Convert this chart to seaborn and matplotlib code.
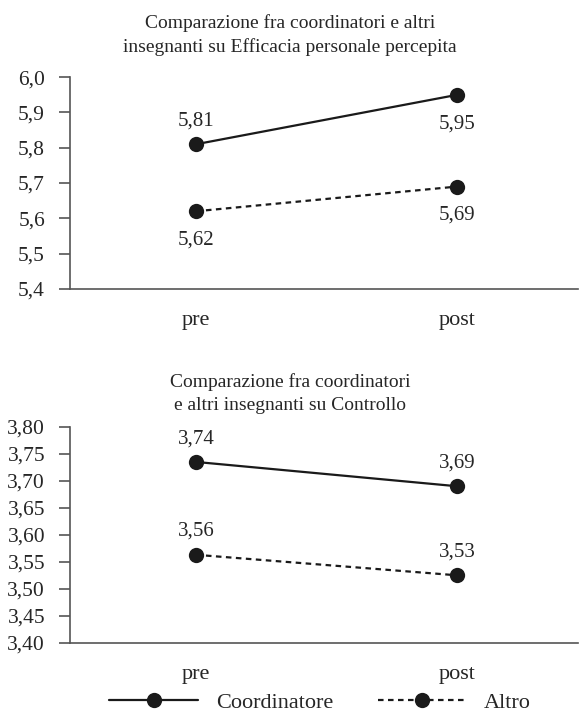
import matplotlib
matplotlib.use("Agg")
import matplotlib.pyplot as plt
import matplotlib.ticker as mticker
import seaborn as sns
import pandas as pd

# Data
tempi = ["pre", "post"]
gruppi = ["Coordinatore", "Altro"]
efficacia_coord = [5.81, 5.95]
efficacia_altro = [5.62, 5.69]
controllo_coord = [3.735, 3.69]
controllo_altro = [3.563, 3.525]
controllo_lab_coord = ["3,74", "3,69"]
controllo_lab_altro = ["3,56", "3,53"]

titolo_1 = "Comparazione fra coordinatori e altri\ninsegnanti su Efficacia personale percepita"
titolo_2 = "Comparazione fra coordinatori\ne altri insegnanti su Controllo"

SERIF = ["Liberation Serif", "DejaVu Serif"]


def to_long(coord, altro):
    return pd.DataFrame({
        "tempo": tempi * 2,
        "gruppo": [gruppi[0]] * 2 + [gruppi[1]] * 2,
        "valore": list(coord) + list(altro),
    })


sns.set_theme(style="ticks")
plt.rcParams["font.family"] = SERIF
plt.rcParams["font.size"] = 14

fig = plt.figure(figsize=(5.79, 7.15), dpi=100)
ax1 = fig.add_axes([0.121, 0.596, 0.877, 0.296])
ax2 = fig.add_axes([0.121, 0.101, 0.877, 0.302])

dashes = {"Coordinatore": "", "Altro": (2.5, 2)}
line_kw = dict(x="tempo", y="valore", hue="gruppo", style="gruppo",
               palette=["#1a1a1a", "#1a1a1a"], dashes=dashes,
               markers={"Coordinatore": "o", "Altro": "o"},
               markersize=11, linewidth=1.6, markeredgewidth=0)

sns.lineplot(data=to_long(efficacia_coord, efficacia_altro), ax=ax1,
             legend=False, **line_kw)
sns.lineplot(data=to_long(controllo_coord, controllo_altro), ax=ax2,
             legend=True, **line_kw)

comma = mticker.FuncFormatter(lambda v, p: f"{v:.1f}".replace(".", ","))
comma2 = mticker.FuncFormatter(lambda v, p: f"{v:.2f}".replace(".", ","))

for ax in (ax1, ax2):
    ax.set_xlim(-0.4825, 1.463)
    ax.set_xlabel("")
    ax.set_ylabel("")
    sns.despine(ax=ax)
    for s in ("left", "bottom"):
        ax.spines[s].set_color("#555555")
        ax.spines[s].set_linewidth(1.2)
    ax.tick_params(axis="y", length=8, width=1.2, color="#555555",
                   labelsize=15.5, pad=10)
    ax.tick_params(axis="x", length=0, labelsize=16, pad=16)

ax1.set_ylim(5.4, 6.0)
ax1.yaxis.set_major_locator(mticker.MultipleLocator(0.1))
ax1.yaxis.set_major_formatter(comma)
ax2.set_ylim(3.40, 3.80)
ax2.yaxis.set_major_locator(mticker.MultipleLocator(0.05))
ax2.yaxis.set_major_formatter(comma2)

title_x = (290 - 70) / 508
ax1.set_title(titolo_1, fontsize=14, pad=18, linespacing=1.45, x=title_x)
ax2.set_title(titolo_2, fontsize=14, pad=12, linespacing=1.45, x=title_x)

# value labels
up, down = 10, -14
for i, (c, a) in enumerate(zip(efficacia_coord, efficacia_altro)):
    dy_c = up if i == 0 else down
    ax1.annotate(f"{c:.2f}".replace(".", ","), (i, c), xytext=(0, dy_c),
                 textcoords="offset points", ha="center",
                 va="bottom" if dy_c > 0 else "top", fontsize=15)
    ax1.annotate(f"{a:.2f}".replace(".", ","), (i, a), xytext=(0, down),
                 textcoords="offset points", ha="center", va="top", fontsize=15)

for i in range(2):
    ax2.annotate(controllo_lab_coord[i], (i, controllo_coord[i]), xytext=(0, up),
                 textcoords="offset points", ha="center", va="bottom", fontsize=15)
    ax2.annotate(controllo_lab_altro[i], (i, controllo_altro[i]), xytext=(0, up),
                 textcoords="offset points", ha="center", va="bottom", fontsize=15)

handles, labels = ax2.get_legend_handles_labels()
ax2.get_legend().remove()
fig.legend(handles, labels, loc="center", bbox_to_anchor=(0.553, 1 - 703 / 715),
           ncol=2, frameon=False, handlelength=4.0, handletextpad=0.8,
           columnspacing=2.0, prop={"family": SERIF, "size": 16})

fig.savefig("out.png", dpi=100)
